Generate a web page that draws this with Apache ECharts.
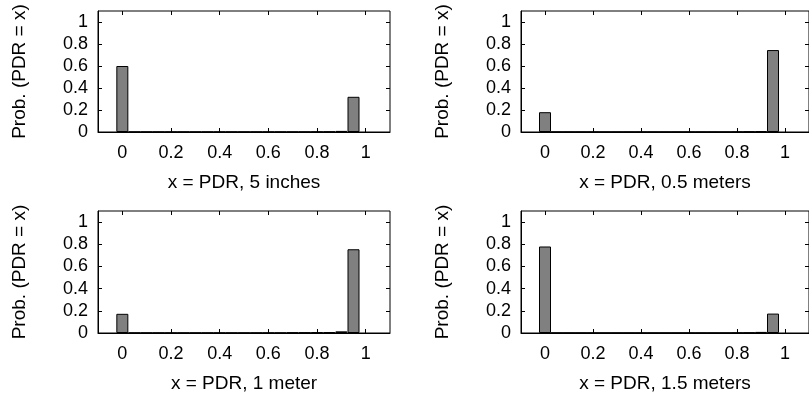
<!DOCTYPE html>
<html>
<head>
<meta charset="utf-8">
<script src="https://cdn.jsdelivr.net/npm/echarts@6/dist/echarts.min.js"></script>
<style>
html,body{margin:0;padding:0;background:#fff;}
#chart{width:809px;height:396px;}
</style>
</head>
<body>
<div id="chart"></div>
<script>
// Histogram bin positions (PDR value of each bin)
const binCenters = [0, 0.05, 0.1, 0.15, 0.2, 0.25, 0.3, 0.35, 0.4, 0.45,
                    0.5, 0.55, 0.6, 0.65, 0.7, 0.75, 0.8, 0.85, 0.9, 0.95];
const xTicks = [0, 0.2, 0.4, 0.6, 0.8, 1];
const yTicks = [0, 0.2, 0.4, 0.6, 0.8, 1];

// Probability of each bin, per distance
const prob5inches = [0.60, 0.001, 0.001, 0.001, 0.001, 0.001, 0.001, 0.001, 0.001, 0.001,
                     0.001, 0.001, 0.001, 0.001, 0.001, 0.001, 0.002, 0.003, 0.010, 0.32];
const prob05meters = [0.18, 0.001, 0.001, 0.001, 0.001, 0.001, 0.001, 0.001, 0.001, 0.001,
                      0.001, 0.001, 0.001, 0.001, 0.001, 0.001, 0.002, 0.004, 0.008, 0.745];
const prob1meter = [0.173, 0.001, 0.001, 0.001, 0.001, 0.001, 0.001, 0.001, 0.001, 0.001,
                    0.001, 0.001, 0.001, 0.001, 0.004, 0.004, 0.006, 0.008, 0.015, 0.755];
const prob15meters = [0.78, 0.001, 0.001, 0.001, 0.001, 0.001, 0.001, 0.001, 0.001, 0.001,
                      0.001, 0.001, 0.001, 0.001, 0.001, 0.001, 0.002, 0.003, 0.010, 0.175];

const panelNames = ['x = PDR, 5 inches', 'x = PDR, 0.5 meters', 'x = PDR, 1 meter', 'x = PDR, 1.5 meters'];
const panelData = [prob5inches, prob05meters, prob1meter, prob15meters];
const yName = 'Prob. (PDR = x)';

const FONT = '"Liberation Sans", Arial, Helvetica, sans-serif';
const grids = [
  {left: 98, top: 11, width: 292, height: 121},
  {left: 521, top: 11, width: 293, height: 121},
  {left: 98, top: 211, width: 292, height: 122},
  {left: 521, top: 211, width: 293, height: 122}
];

const option = {
  animation: false,
  backgroundColor: '#fff',
  grid: grids.map(g => Object.assign({show: true, borderColor: '#000', borderWidth: 1, backgroundColor: 'transparent'}, g)),
  xAxis: [],
  yAxis: [],
  series: []
};

grids.forEach((g, i) => {
  const common = {gridIndex: i, type: 'value', min: -0.1, max: 1.1, splitLine: {show: false}};
  option.xAxis.push(Object.assign({}, common, {
    position: 'bottom',
    name: panelNames[i],
    nameLocation: 'middle',
    nameGap: 41,
    nameTextStyle: {color: '#000', fontFamily: FONT, fontSize: 19},
    axisLine: {show: true, onZero: false, lineStyle: {color: '#000', width: 1}},
    axisTick: {show: true, inside: true, length: 4, customValues: xTicks, lineStyle: {color: '#000'}},
    axisLabel: {show: true, customValues: xTicks, margin: 12, color: '#000', fontFamily: FONT, fontSize: 18}
  }));
  option.xAxis.push(Object.assign({}, common, {
    position: 'top',
    axisLine: {show: false, onZero: false},
    axisTick: {show: true, inside: true, length: 4, customValues: xTicks, lineStyle: {color: '#000'}},
    axisLabel: {show: false}
  }));
  const ycommon = {gridIndex: i, type: 'value', min: 0, max: 1.1, splitLine: {show: false}};
  option.yAxis.push(Object.assign({}, ycommon, {
    position: 'left',
    name: yName,
    nameLocation: 'middle',
    nameGap: 69,
    nameRotate: 90,
    nameTextStyle: {color: '#000', fontFamily: FONT, fontSize: 19},
    axisLine: {show: true, onZero: false, lineStyle: {color: '#000', width: 1}},
    axisTick: {show: true, inside: true, length: 4, customValues: yTicks, lineStyle: {color: '#000'}},
    axisLabel: {show: true, customValues: yTicks, margin: 10, color: '#000', fontFamily: FONT, fontSize: 18}
  }));
  option.yAxis.push(Object.assign({}, ycommon, {
    position: 'right',
    axisLine: {show: false, onZero: false},
    axisTick: {show: true, inside: true, length: 4, customValues: yTicks, lineStyle: {color: '#000'}},
    axisLabel: {show: false}
  }));
  option.series.push({
    type: 'bar',
    xAxisIndex: i * 2,
    yAxisIndex: i * 2,
    barWidth: 12,
    itemStyle: {color: '#808080', borderColor: '#000', borderWidth: 1},
    data: binCenters.map((x, k) => [x, panelData[i][k]])
  });
});

const chart = echarts.init(document.getElementById('chart'), null, {renderer: 'canvas'});
chart.setOption(option);
</script>
</body>
</html>
